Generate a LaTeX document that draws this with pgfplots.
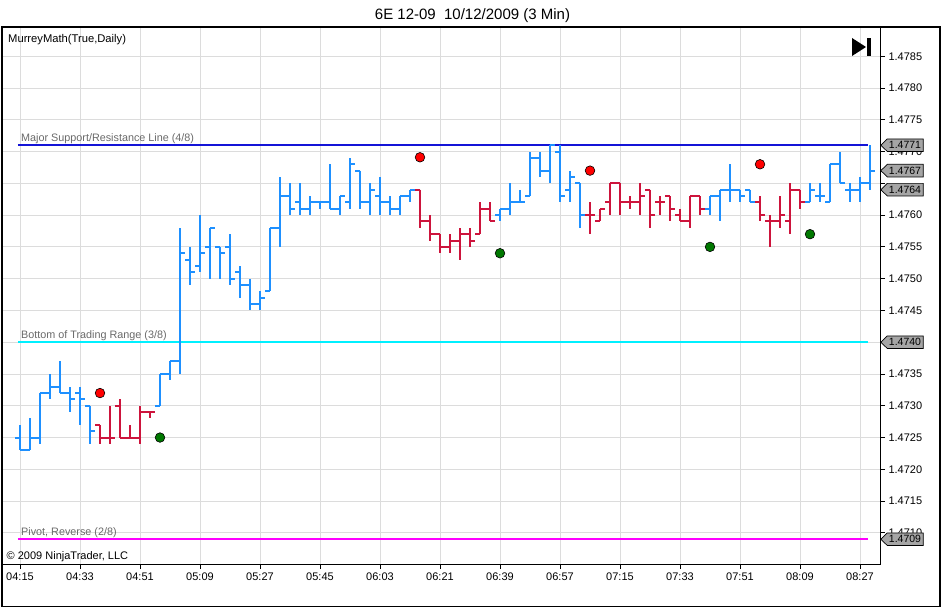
\documentclass[border=0pt]{standalone}
\usepackage{fontspec}
\setmainfont{Liberation Sans}
\usepackage{pgfplots}
\pgfplotsset{compat=1.18}
\usepackage{pgfplotstable}

\definecolor{barblue}{RGB}{30,144,255}
\definecolor{barred}{RGB}{205,20,60}
\definecolor{linblue}{RGB}{20,20,215}
\definecolor{lincyan}{RGB}{0,240,255}
\definecolor{linmag}{RGB}{255,0,255}
\definecolor{gridgray}{RGB}{220,220,220}
\definecolor{labgray}{RGB}{105,105,105}
\definecolor{taggray}{RGB}{165,165,165}
\definecolor{dotgreen}{RGB}{0,120,0}

\pgfdeclareplotmark{otick}{\pgfpathmoveto{\pgfqpoint{-5pt}{0pt}}\pgfpathlineto{\pgfqpoint{0pt}{0pt}}\pgfusepathqstroke}
\pgfdeclareplotmark{ctick}{\pgfpathmoveto{\pgfqpoint{0pt}{0pt}}\pgfpathlineto{\pgfqpoint{5pt}{0pt}}\pgfusepathqstroke}

\pgfplotstableread{
i o h l c
0 1.4725 1.4727 1.4723 1.4723
1 1.4723 1.4728 1.4723 1.4725
2 1.4725 1.4732 1.4724 1.4732
3 1.4732 1.4735 1.4731 1.4733
4 1.4733 1.4737 1.4732 1.4732
5 1.4732 1.4733 1.4729 1.4731
6 1.4732 1.4733 1.4727 1.4731
7 1.4730 1.4730 1.4724 1.4726
14 1.4730 1.4735 1.4730 1.4735
15 1.4735 1.4737 1.4734 1.4737
16 1.4737 1.4758 1.4735 1.4754
17 1.4753 1.4755 1.4749 1.4751
18 1.4752 1.4760 1.4751 1.4754
19 1.4755 1.4758 1.4750 1.4758
20 1.4755 1.4755 1.4750 1.4754
21 1.4755 1.4757 1.4749 1.4750
22 1.4751 1.4752 1.4747 1.4749
23 1.4749 1.4750 1.4745 1.4746
24 1.4746 1.4748 1.4745 1.4747
25 1.4748 1.4758 1.4748 1.4758
26 1.4758 1.4766 1.4755 1.4763
27 1.4763 1.4765 1.4760 1.4761
28 1.4762 1.4765 1.4760 1.4761
29 1.4761 1.4763 1.4760 1.4762
30 1.4762 1.4762 1.4761 1.4762
31 1.4762 1.4768 1.4761 1.4761
32 1.4761 1.4763 1.4760 1.4763
33 1.4762 1.4769 1.4761 1.4768
34 1.4767 1.4767 1.4761 1.4762
35 1.4762 1.4765 1.4760 1.4764
36 1.4763 1.4766 1.4760 1.4762
37 1.4762 1.4763 1.4760 1.4761
38 1.4761 1.4763 1.4760 1.4763
39 1.4763 1.4764 1.4762 1.4764
48 1.4760 1.4761 1.4759 1.4761
49 1.4761 1.4765 1.4760 1.4762
50 1.4762 1.4764 1.4762 1.4762
51 1.4763 1.4770 1.4763 1.4769
52 1.4769 1.4770 1.4766 1.4767
53 1.4767 1.4771 1.4765 1.4771
54 1.4770 1.4771 1.4762 1.4763
55 1.4764 1.4767 1.4762 1.4766
56 1.4765 1.4765 1.4758 1.4760
69 1.4761 1.4763 1.4760 1.4763
70 1.4763 1.4764 1.4759 1.4764
71 1.4764 1.4768 1.4762 1.4764
72 1.4764 1.4764 1.4762 1.4763
73 1.4764 1.4764 1.4762 1.4762
79 1.4762 1.4765 1.4762 1.4764
80 1.4763 1.4765 1.4762 1.4763
81 1.4762 1.4768 1.4762 1.4768
82 1.4768 1.4770 1.4765 1.4765
83 1.4764 1.4765 1.4762 1.4764
84 1.4764 1.4766 1.4762 1.4765
85 1.4765 1.4771 1.4764 1.4767
}\bluebars

\pgfplotstableread{
i o h l c
8 1.4727 1.4727 1.4724 1.4725
9 1.4725 1.4730 1.4724 1.4725
10 1.4730 1.4731 1.4725 1.4725
11 1.4725 1.4727 1.4725 1.4725
12 1.4725 1.4730 1.4724 1.4729
13 1.4729 1.4729 1.4728 1.4729
40 1.4764 1.4764 1.4758 1.4759
41 1.4759 1.4760 1.4756 1.4757
42 1.4757 1.4757 1.4754 1.4755
43 1.4755 1.4757 1.4754 1.4756
44 1.4756 1.4758 1.4753 1.4757
45 1.4757 1.4758 1.4755 1.4756
46 1.4757 1.4762 1.4757 1.4761
47 1.4761 1.4762 1.4759 1.4759
57 1.4760 1.4762 1.4757 1.4760
58 1.4759 1.4761 1.4759 1.4761
59 1.4762 1.4765 1.4760 1.4765
60 1.4765 1.4765 1.4760 1.4762
61 1.4762 1.4763 1.4761 1.4762
62 1.4762 1.4765 1.4760 1.4763
63 1.4764 1.4764 1.4758 1.4760
64 1.4762 1.4763 1.4760 1.4762
65 1.4763 1.4763 1.4759 1.4761
66 1.4760 1.4761 1.4759 1.4759
67 1.4759 1.4763 1.4758 1.4763
68 1.4763 1.4763 1.4760 1.4761
74 1.4762 1.4763 1.4759 1.4760
75 1.4759 1.4760 1.4755 1.4759
76 1.4759 1.4763 1.4758 1.4760
77 1.4759 1.4765 1.4757 1.4764
78 1.4764 1.4764 1.4761 1.4762
}\redbars

\begin{document}
\begin{tikzpicture}
\useasboundingbox (0,0) rectangle (942pt,608pt);
\begin{axis}[
  at={(2pt,44pt)}, anchor=south west,
  scale only axis, width=878pt, height=537pt,
  xmin=-1.8, xmax=86, ymin=1.47051, ymax=1.47896,
  clip=false,
  axis line style={black, line width=1pt},
  xtick={0,6,12,18,24,30,36,42,48,54,60,66,72,78,84},
  xticklabels={04:15,04:33,04:51,05:09,05:27,05:45,06:03,06:21,06:39,06:57,07:15,07:33,07:51,08:09,08:27},
  ytick={1.4710,1.4715,1.4720,1.4725,1.4730,1.4735,1.4740,1.4745,1.4750,1.4755,1.4760,1.4765,1.4770,1.4775,1.4780,1.4785},
  yticklabels={1.4710,1.4715,1.4720,1.4725,1.4730,1.4735,{},1.4745,1.4750,1.4755,1.4760,{},1.4770,1.4775,1.4780,1.4785},
  xtick pos=bottom, ytick pos=right, yticklabel pos=right,
  tick align=outside, major tick length=5pt,
  tick style={black, line width=0.8pt},
  grid=major, major grid style={gridgray, line width=0.8pt},
  ticklabel style={font=\fontsize{11}{13}\selectfont},
  scaled y ticks=false,
]
% Murrey Math lines
\addplot[linblue, line width=2pt] coordinates {(-0.2,1.4771) (84.8,1.4771)};
\addplot[lincyan, line width=2pt] coordinates {(-0.2,1.4740) (84.8,1.4740)};
\addplot[linmag, line width=2pt] coordinates {(-0.2,1.4709) (84.8,1.4709)};
\node[anchor=base west, text=labgray, font=\fontsize{10.8}{12}\selectfont, inner sep=0pt] at ([yshift=3.5pt]axis cs:0.1,1.4771) {Major Support/Resistance Line (4/8)};
\node[anchor=base west, text=labgray, font=\fontsize{10.8}{12}\selectfont, inner sep=0pt] at ([yshift=3.5pt]axis cs:0.1,1.4740) {Bottom of Trading Range (3/8)};
\node[anchor=base west, text=labgray, font=\fontsize{10.8}{12}\selectfont, inner sep=0pt] at ([yshift=3.5pt]axis cs:0.1,1.4709) {Pivot, Reverse (2/8)};

% blue bars
\addplot[barblue, only marks, mark=otick, mark options={line width=2pt},
  error bars/.cd, y dir=both, y explicit, error mark=none,
  error bar style={line width=2pt, barblue}]
  table[x=i, y=o, y error plus expr=\thisrow{h}-\thisrow{o}, y error minus expr=\thisrow{o}-\thisrow{l}] {\bluebars};
\addplot[barblue, only marks, mark=ctick, mark options={line width=2pt}] table[x=i, y=c] {\bluebars};
% red bars
\addplot[barred, only marks, mark=otick, mark options={line width=2pt},
  error bars/.cd, y dir=both, y explicit, error mark=none,
  error bar style={line width=2pt, barred}]
  table[x=i, y=o, y error plus expr=\thisrow{h}-\thisrow{o}, y error minus expr=\thisrow{o}-\thisrow{l}] {\redbars};
\addplot[barred, only marks, mark=ctick, mark options={line width=2pt}] table[x=i, y=c] {\redbars};

% signal dots
\addplot[only marks, mark=*, mark size=4.8pt, mark options={fill=red, draw=black, line width=0.6pt}]
  coordinates {(8,1.4732) (40,1.47691) (57,1.4767) (74,1.4768)};
\addplot[only marks, mark=*, mark size=4.8pt, mark options={fill=dotgreen, draw=black, line width=0.6pt}]
  coordinates {(14,1.4725) (48,1.4754) (69,1.4755) (79,1.4757)};

\coordinate (tA) at (axis cs:86,1.4771);
\coordinate (tB) at (axis cs:86,1.4767);
\coordinate (tC) at (axis cs:86,1.4764);
\coordinate (tD) at (axis cs:86,1.4740);
\coordinate (tE) at (axis cs:86,1.4709);
\end{axis}

% price tags
\foreach \c/\t in {tA/1.4771,tB/1.4767,tC/1.4764,tD/1.4740,tE/1.4709}{
  \draw[fill=taggray, line width=0.7pt] ([xshift=0.8pt]\c) -- ++(6.5pt,6.3pt) -- ++(36pt,0) -- ++(0,-12.6pt) -- ++(-36pt,0) -- cycle;
  \node[font=\fontsize{10.5}{12}\selectfont, inner sep=0pt] at ([xshift=25pt]\c) {\t};
}

% outer frame
\draw[black, line width=1.2pt] (2pt,1.5pt) rectangle (940pt,581pt);

% texts
\node[anchor=west, font=\fontsize{11.2}{13}\selectfont, inner sep=0pt] at (8pt,568pt) {MurreyMath(True,Daily)};
\node[anchor=west, font=\fontsize{11}{13}\selectfont, inner sep=0pt] at (6.5pt,51pt) {\textcopyright\ 2009 NinjaTrader, LLC};
\node[anchor=base, font=\fontsize{15}{17}\selectfont, inner sep=0pt] at (472.5pt,588pt) {6E 12-09\ \ 10/12/2009 (3 Min)};

% play-to-end icon
\fill[black] (852pt,570pt) -- (852pt,552pt) -- (866pt,561pt) -- cycle;
\fill[black] (867pt,570pt) rectangle (870.5pt,552pt);
\end{tikzpicture}
\end{document}
